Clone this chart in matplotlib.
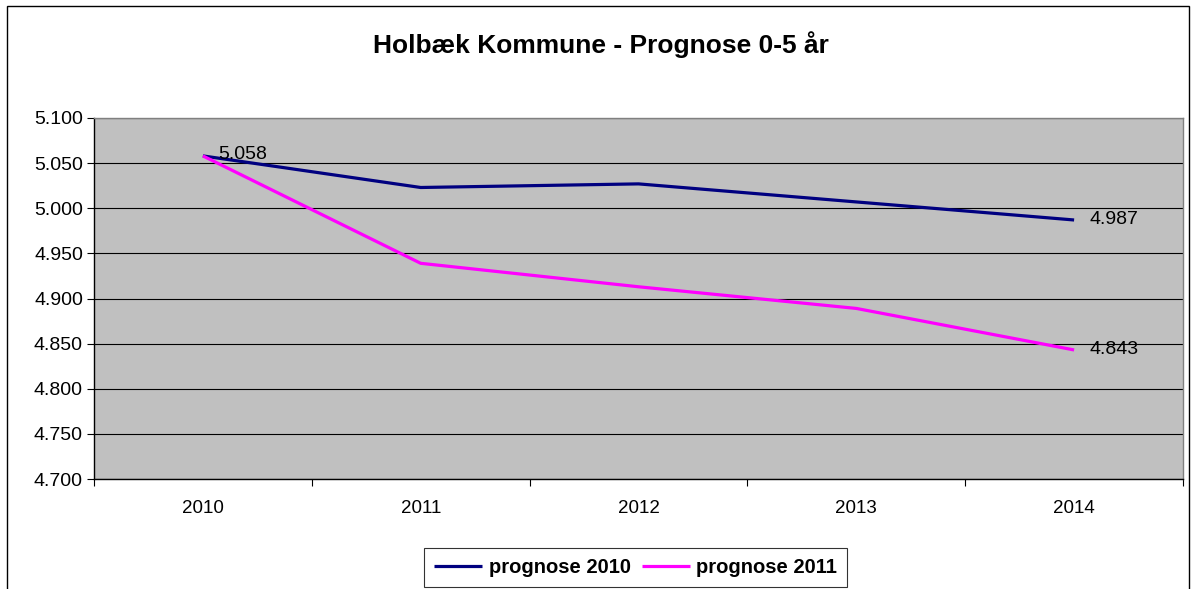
import matplotlib
matplotlib.use("Agg")
import matplotlib.pyplot as plt
from matplotlib.patches import Rectangle
from matplotlib.ticker import FuncFormatter, FixedLocator

years = ["2010", "2011", "2012", "2013", "2014"]
prognose_2010 = [5058, 5023, 5027, 5007, 4987]
prognose_2011 = [5058, 4939, 4913, 4889, 4843]
yticks = [4700, 4750, 4800, 4850, 4900, 4950, 5000, 5050, 5100]

plt.rcParams['font.family'] = ['Liberation Sans', 'DejaVu Sans']

W, H = 1192, 589
fig = plt.figure(figsize=(W / 100, H / 100), dpi=100)
fig.patch.set_facecolor('white')

# outer chart border
fig.add_artist(Rectangle((7 / W, -0.05), (1189 - 7) / W, 1 - 6 / H + 0.05,
                         transform=fig.transFigure, fill=False,
                         edgecolor='black', linewidth=1.0))

ax = fig.add_axes([94 / W, 1 - 479 / H, (1183 - 94) / W, (479 - 118) / H])
ax.set_facecolor('#C0C0C0')

x = list(range(len(years)))
ax.plot(x, prognose_2010, color='#000080', linewidth=2.3, label='prognose 2010',
        solid_capstyle='butt', zorder=3)
ax.plot(x, prognose_2011, color='#FF00FF', linewidth=2.3, label='prognose 2011',
        solid_capstyle='butt', zorder=3)

ax.set_xlim(-0.5, len(years) - 0.5)
ax.set_ylim(yticks[0], yticks[-1])
ax.set_yticks(yticks)
ax.yaxis.set_major_formatter(FuncFormatter(lambda v, p: f"{v:,.0f}".replace(",", ".")))
ax.set_xticks(x)
ax.set_xticklabels(years)
ax.xaxis.set_minor_locator(FixedLocator([i + 0.5 for i in range(-1, len(years))]))
ax.tick_params(axis='x', which='major', length=0, pad=15, labelsize=13.5)
ax.tick_params(axis='x', which='minor', length=5, width=0.8, color='black', direction='out')
ax.tick_params(axis='y', length=5, width=0.8, color='black', direction='out', labelsize=14, pad=3)

ax.grid(axis='y', color='black', linewidth=0.8, zorder=1)
ax.set_axisbelow(True)
for s in ['left', 'bottom']:
    ax.spines[s].set_color('black')
    ax.spines[s].set_linewidth(1.0)
for s in ['right', 'top']:
    ax.spines[s].set_color('#808080')
    ax.spines[s].set_linewidth(1.0)

fmt = lambda v: f"{v:,.0f}".replace(",", ".")
ax.annotate(fmt(prognose_2010[0]), (x[0], prognose_2010[0]), xytext=(11, 1),
            textcoords='offset points', ha='left', va='center', fontsize=14, zorder=4)
ax.annotate(fmt(prognose_2010[-1]), (x[-1], prognose_2010[-1]), xytext=(11, 0),
            textcoords='offset points', ha='left', va='center', fontsize=14, zorder=4)
ax.annotate(fmt(prognose_2011[-1]), (x[-1], prognose_2011[-1]), xytext=(11, 0),
            textcoords='offset points', ha='left', va='center', fontsize=14, zorder=4)

fig.text(601 / W, 1 - 45 / H, 'Holbæk Kommune - Prognose 0-5 år', ha='center', va='center',
         fontsize=19, fontweight='bold')

leg = fig.legend(loc='center', bbox_to_anchor=(635.5 / W, 1 - 567.5 / H), ncol=2,
                 frameon=True, fancybox=False, edgecolor='black',
                 prop={'weight': 'bold', 'size': 14.5}, handlelength=2.4,
                 handletextpad=0.3, columnspacing=0.55, borderpad=0.5,
                 borderaxespad=0)
leg.get_frame().set_linewidth(0.8)

fig.savefig('out.png', dpi=100)
